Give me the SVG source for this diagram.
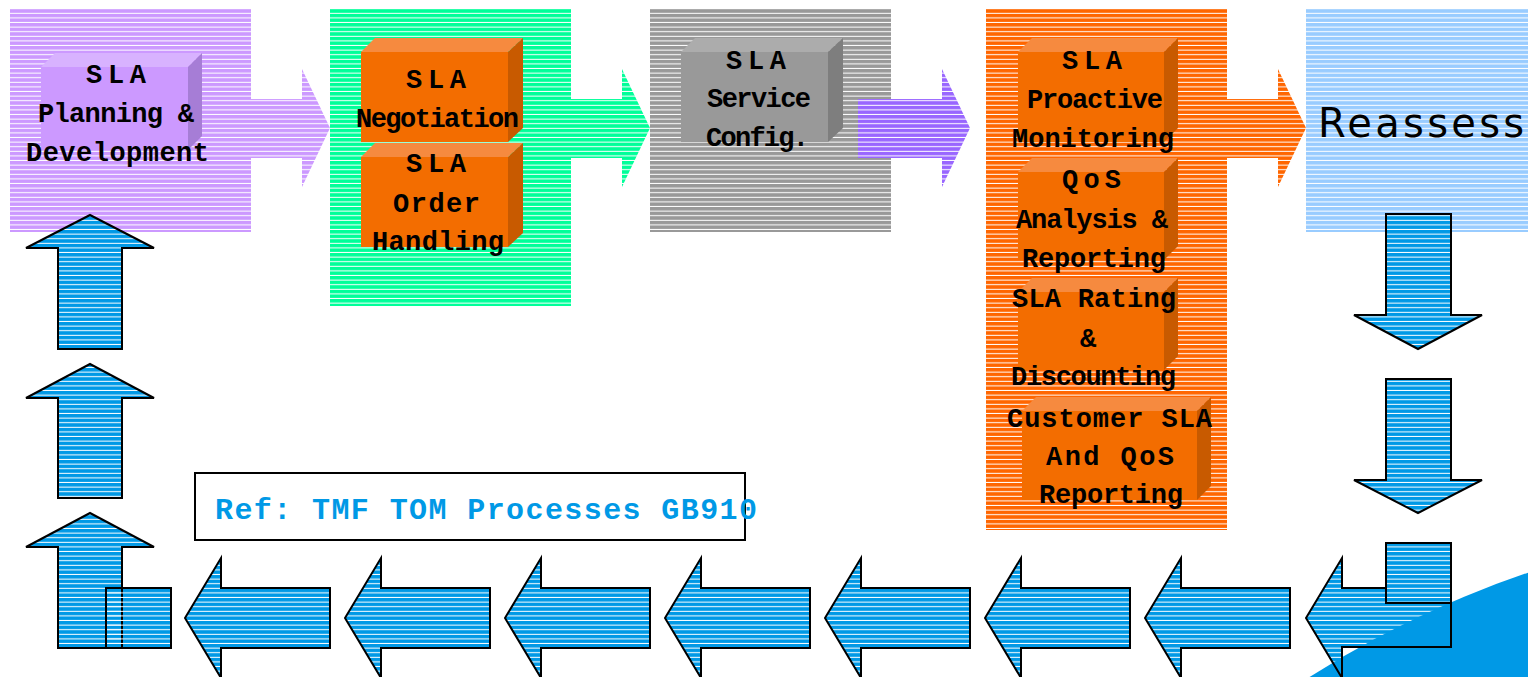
<svg xmlns="http://www.w3.org/2000/svg" width="1528" height="677" viewBox="0 0 1528 677">
<style>
.t{font-family:"Liberation Mono","Courier New",monospace;font-weight:bold;font-size:27px;fill:#000}
.ref{font-family:"Liberation Mono","Courier New",monospace;font-weight:bold;font-size:30px;fill:#0099E6}
.big{font-family:"DejaVu Sans","Liberation Sans",sans-serif;font-size:40px;letter-spacing:3.3px;fill:#000}
.ba{fill:url(#pBlue);stroke:#000;stroke-width:2;stroke-linejoin:miter}
.ol{fill:none;stroke:#000;stroke-width:2}
.of{fill:#F36D00}.ot{fill:#F68A3F}.os{fill:#C85A00}
.pf{fill:#CC99FF}.pt{fill:#D8B2FF}.ps{fill:#A67DD6}
.gf{fill:#999999}.gt{fill:#ACACAC}.gs{fill:#7E7E7E}
</style>
<defs>
<pattern id="pPurple" width="20" height="4.6" patternUnits="userSpaceOnUse"><rect width="20" height="4.6" fill="#CC99FF"/><rect y="3.6" width="20" height="1" fill="#fff"/></pattern>
<pattern id="pGreen" width="20" height="4.6" patternUnits="userSpaceOnUse"><rect width="20" height="4.6" fill="#00FF99"/><rect y="3.6" width="20" height="1" fill="#fff"/></pattern>
<pattern id="pGray" width="20" height="4.6" patternUnits="userSpaceOnUse"><rect width="20" height="4.6" fill="#999999"/><rect y="3.6" width="20" height="1" fill="#fff"/></pattern>
<pattern id="pOrange" width="20" height="4.6" patternUnits="userSpaceOnUse"><rect width="20" height="4.6" fill="#FF6600"/><rect y="3.6" width="20" height="1" fill="#fff"/></pattern>
<pattern id="pLBlue" width="20" height="4.6" patternUnits="userSpaceOnUse"><rect width="20" height="4.6" fill="#99CCFF"/><rect y="3.6" width="20" height="1" fill="#fff"/></pattern>
<pattern id="pViolet" width="20" height="4.6" patternUnits="userSpaceOnUse"><rect width="20" height="4.6" fill="#9966FF"/><rect y="3.6" width="20" height="1" fill="#fff"/></pattern>
<pattern id="pBlue" width="20" height="4.6" patternUnits="userSpaceOnUse"><rect width="20" height="4.6" fill="#0099E6"/><rect y="3.6" width="20" height="1" fill="#fff"/></pattern>
<pattern id="pWhite" width="20" height="4.6" patternUnits="userSpaceOnUse"><rect y="3.6" width="20" height="1" fill="#fff"/></pattern>
</defs>

<!-- stage panels -->
<g id="panel-planning"><rect x="10" y="9" width="241" height="223" fill="url(#pPurple)"/></g>
<g id="panel-negotiation"><rect x="330" y="9" width="241" height="297" fill="url(#pGreen)"/></g>
<g id="panel-config"><rect x="650" y="9" width="241" height="223" fill="url(#pGray)"/></g>
<g id="panel-monitoring"><rect x="986" y="9" width="241" height="521" fill="url(#pOrange)"/></g>
<g id="panel-reassess"><rect x="1306" y="9" width="230" height="223" fill="url(#pLBlue)"/>
<text class="big" x="1318" y="137">Reassess</text></g>

<!-- flow connectors -->
<g id="connectors">
<polygon points="250,99 302,99 302,69 330,128 302,187 302,158 250,158" fill="url(#pPurple)"/>
<polygon points="571,99 622,99 622,69 650,128 622,187 622,158 571,158" fill="url(#pGreen)"/>
<polygon points="858,99 942,99 942,69 970,128 942,187 942,158 858,158" fill="url(#pViolet)"/>
<polygon points="1227,99 1278,99 1278,69 1306,128 1278,187 1278,158 1227,158" fill="url(#pOrange)"/>

<polygon class="ba" points="1386,214 1451,214 1451,315 1482,315 1418,349 1354,315 1386,315"/>
<polygon class="ba" points="1386,379 1451,379 1451,480 1482,480 1418,513 1354,480 1386,480"/>

<polygon class="ba" points="185,618 221,558 221,588 330,588 330,648 221,648 221,678"/>
<polygon class="ba" points="345,618 381,558 381,588 490,588 490,648 381,648 381,678"/>
<polygon class="ba" points="505,618 541,558 541,588 650,588 650,648 541,648 541,678"/>
<polygon class="ba" points="665,618 701,558 701,588 810,588 810,648 701,648 701,678"/>
<polygon class="ba" points="825,618 861,558 861,588 970,588 970,648 861,648 861,678"/>
<polygon class="ba" points="985,618 1021,558 1021,588 1130,588 1130,648 1021,648 1021,678"/>
<polygon class="ba" points="1145,618 1181,558 1181,588 1290,588 1290,648 1181,648 1181,678"/>

<polygon points="1306,618 1342,558 1342,588 1451,588 1451,647 1342,647 1342,678" fill="url(#pBlue)"/>
<circle cx="1854" cy="1536" r="1017" fill="#0099E6"/>
<polygon class="ol" points="1306,618 1342,558 1342,588 1451,588 1451,647 1342,647 1342,678"/>
<rect class="ba" x="1386" y="543" width="65" height="60"/>

<polygon class="ba" points="90,215 154,248 122,248 122,349 58,349 58,248 26,248"/>
<polygon class="ba" points="90,364 154,398 122,398 122,498 58,498 58,398 26,398"/>
<rect x="106" y="588" width="65" height="60" fill="#0099E6"/>
<polygon class="ba" points="90,513 154,547 122,547 122,648 58,648 58,547 26,547"/>
<rect x="106" y="588" width="65" height="60" fill="url(#pWhite)" stroke="#000" stroke-width="2"/>
</g>

<!-- process boxes -->
<g id="box-planning">
<polygon class="pt" points="41,67 55,53 202,53 188,67"/>
<polygon class="ps" points="188,67 202,53 202,136 188,150"/>
<rect class="pf" x="41" y="67" width="147" height="83"/>
<text class="t" x="86" y="83" textLength="60" lengthAdjust="spacing">SLA</text>
<text class="t" x="38" y="122" textLength="156" lengthAdjust="spacing">Planning &amp;</text>
<text class="t" x="26" y="161" textLength="183" lengthAdjust="spacing">Development</text>
</g>

<g id="box-negotiation">
<polygon class="ot" points="361,52 375,38 523,38 508,52"/>
<polygon class="os" points="508,52 523,38 523,128 508,142"/>
<rect class="of" x="361" y="52" width="147" height="90"/>
<text class="t" x="406" y="88" textLength="60" lengthAdjust="spacing">SLA</text>
<text class="t" x="356" y="127" textLength="163" lengthAdjust="spacing">Negotiation</text>
</g>

<g id="box-order">
<polygon class="ot" points="361,157 375,143 523,143 508,157"/>
<polygon class="os" points="508,157 523,143 523,233 508,247"/>
<rect class="of" x="361" y="157" width="147" height="90"/>
<text class="t" x="406" y="172" textLength="60" lengthAdjust="spacing">SLA</text>
<text class="t" x="393" y="212" textLength="87" lengthAdjust="spacing">Order</text>
<text class="t" x="372" y="250" textLength="132" lengthAdjust="spacing">Handling</text>
</g>

<g id="box-config">
<polygon class="gt" points="681,52 695,38 843,38 828,52"/>
<polygon class="gs" points="828,52 843,38 843,128 828,142"/>
<rect class="gf" x="681" y="52" width="147" height="90"/>
<text class="t" x="726" y="69" textLength="60" lengthAdjust="spacing">SLA</text>
<text class="t" x="707" y="107" textLength="104" lengthAdjust="spacing">Service</text>
<text class="t" x="706" y="146" textLength="103" lengthAdjust="spacing">Config.</text>
</g>

<g id="box-monitoring">
<polygon class="ot" points="1018,52 1032,38 1178,38 1164,52"/>
<polygon class="os" points="1164,52 1178,38 1178,128 1164,142"/>
<rect class="of" x="1018" y="52" width="146" height="90"/>
<text class="t" x="1062" y="69" textLength="60" lengthAdjust="spacing">SLA</text>
<text class="t" x="1027" y="108" textLength="136" lengthAdjust="spacing">Proactive</text>
<text class="t" x="1012" y="147" textLength="162" lengthAdjust="spacing">Monitoring</text>
</g>

<g id="box-qos">
<polygon class="ot" points="1018,172 1032,158 1178,158 1164,172"/>
<polygon class="os" points="1164,172 1178,158 1178,246 1164,260"/>
<rect class="of" x="1018" y="172" width="146" height="88"/>
<text class="t" x="1062" y="188" textLength="59" lengthAdjust="spacing">QoS</text>
<text class="t" x="1016" y="228" textLength="152" lengthAdjust="spacing">Analysis &amp;</text>
<text class="t" x="1022" y="267" textLength="144" lengthAdjust="spacing">Reporting</text>
</g>

<g id="box-rating">
<polygon class="ot" points="1018,292 1032,278 1178,278 1164,292"/>
<polygon class="os" points="1164,292 1178,278 1178,356 1164,370"/>
<rect class="of" x="1018" y="292" width="146" height="78"/>
<text class="t" x="1012" y="307" textLength="164" lengthAdjust="spacing">SLA Rating</text>
<text class="t" x="1080" y="347">&amp;</text>
<text class="t" x="1011" y="385" textLength="165" lengthAdjust="spacing">Discounting</text>
</g>

<g id="box-customer">
<polygon class="ot" points="1022,411 1036,397 1211,397 1197,411"/>
<polygon class="os" points="1197,411 1211,397 1211,486 1197,500"/>
<rect class="of" x="1022" y="411" width="175" height="89"/>
<text class="t" x="1007" y="427" textLength="205" lengthAdjust="spacing">Customer SLA</text>
<text class="t" x="1046" y="465" textLength="128" lengthAdjust="spacing">And QoS</text>
<text class="t" x="1039" y="503" textLength="144" lengthAdjust="spacing">Reporting</text>
</g>

<g id="ref-note">
<rect x="195" y="473" width="550" height="67" fill="#fff" stroke="#000" stroke-width="2"/>
<text class="ref" x="215" y="519" textLength="542" lengthAdjust="spacing">Ref: TMF TOM Processes GB910</text>
</g>
</svg>
